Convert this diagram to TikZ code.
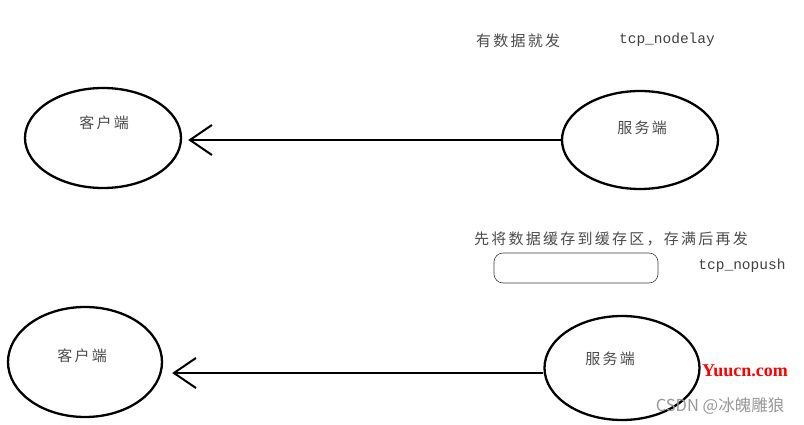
\documentclass[tikz,border=0pt]{standalone}
\usepackage{fontspec}
\usetikzlibrary{shapes.geometric,arrows.meta}
\newfontfamily\cjk{Noto Sans CJK SC}
\newfontfamily\cjkwide[LetterSpace=15]{Noto Sans CJK SC}
\newfontfamily\monof{Liberation Mono}
\newfontfamily\wmserif{Liberation Serif}
\begin{document}
\begin{tikzpicture}[x=1pt,y=-1pt,
  ell/.style={draw,line width=2.3pt,ellipse,inner sep=0pt},
  lab/.style={font=\cjkwide\fontsize{15}{17}\selectfont,text=black!70},
  mono/.style={font=\monof\fontsize{14.5}{16}\selectfont,text=black!75},
  arr/.style={line width=2pt,-{Straight Barb[length=22pt,width=30pt,line width=2pt]}}]
\useasboundingbox[fill=white] (0,0) rectangle (804,425);
% top row
\node[ell,minimum width=156pt,minimum height=100pt] (c1) at (103,138) {};
\node[ell,minimum width=156pt,minimum height=98pt] (s1) at (640,140) {};
\node[lab] (c1t) at (104,123) {客户端};
\node[lab] (s1t) at (642,128) {服务端};
\draw[arr,shorten >=6pt] (s1.west) -- (s1.west -| c1.east);
\node[lab] (t1) at (518,41) {有数据就发};
\node[mono] (t2) at (667,40) {tcp\_nodelay};
% bottom row
\node[ell,minimum width=154pt,minimum height=110pt] (c2) at (85,362) {};
\node[ell,minimum width=155pt,minimum height=104pt] (s2) at (622,368) {};
\node[lab] (c2t) at (82,356) {客户端};
\node[lab] (s2t) at (610,359) {服务端};
\draw[arr,shorten >=9pt] ([yshift=-5pt]s2.west) -- ([yshift=-5pt]s2.west -| c2.east);
\node[lab] (t3) at (611,239) {先将数据缓存到缓存区，存满后再发};
\node[draw,line width=0.6pt,draw=black!75,rounded corners=9pt,minimum width=164pt,minimum height=30pt] (buf) at (576,268) {};
\node[mono] (t4) at (742,266) {tcp\_nopush};
% watermarks
\node[font=\wmserif\bfseries\fontsize{18}{20}\selectfont,text=red] (wm1) at (745,371) {Yuucn.com};
\node[font=\cjk\fontsize{16.5}{18}\selectfont,text=black!40] (wm2) at (720,406) {CSDN @冰魄雕狼};
\end{tikzpicture}
\end{document}
